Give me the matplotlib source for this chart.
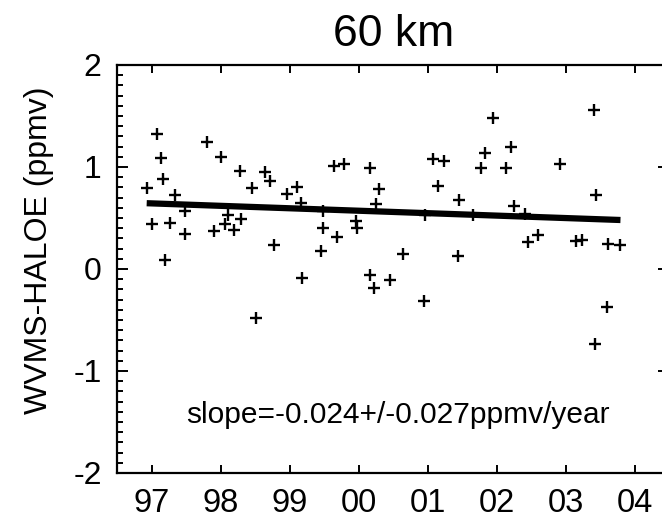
import numpy as np
import matplotlib
matplotlib.use('Agg')
import matplotlib.pyplot as plt
from matplotlib.ticker import MultipleLocator

plt.rcParams['font.family'] = ['Liberation Sans', 'DejaVu Sans']

# decimal year (97 = 1997, 100 = 2000) and WVMS-HALOE difference in ppmv
year = [96.93, 97.00, 97.08, 97.13, 97.17, 97.20, 97.27, 97.34, 97.48, 97.49,
        97.80, 97.91, 98.00, 98.07, 98.11, 98.19, 98.28, 98.30, 98.46, 98.51,
        98.65, 98.72, 98.78, 98.96, 99.10, 99.17, 99.18, 99.46, 99.48, 99.48,
        99.64, 99.68, 99.78, 99.96, 99.98, 100.16, 100.17, 100.22, 100.25, 100.29,
        100.45, 100.64, 100.95, 100.96, 101.08, 101.15, 101.23, 101.44, 101.45, 101.66,
        101.77, 101.83, 101.94, 102.13, 102.21, 102.25, 102.41, 102.45, 102.60, 102.91,
        103.15, 103.24, 103.40, 103.43, 103.42, 103.59, 103.61, 103.79]
diff = [0.79, 0.44, 1.32, 1.09, 0.88, 0.09, 0.45, 0.73, 0.34, 0.57,
        1.25, 0.37, 1.10, 0.44, 0.53, 0.38, 0.96, 0.49, 0.79, -0.48,
        0.95, 0.86, 0.24, 0.74, 0.80, 0.65, -0.09, 0.18, 0.57, 0.40,
        1.01, 0.31, 1.03, 0.47, 0.40, 0.99, -0.06, -0.19, 0.64, 0.78,
        -0.11, 0.15, -0.31, 0.53, 1.08, 0.81, 1.06, 0.13, 0.68, 0.53,
        0.99, 1.14, 1.48, 0.99, 1.20, 0.62, 0.54, 0.26, 0.33, 1.03,
        0.27, 0.28, 1.56, 0.73, -0.74, -0.37, 0.25, 0.24]

# linear fit: value at the first point and slope per year
fit_start = 0.645
fit_slope = -0.024

xtick_pos = [97, 98, 99, 100, 101, 102, 103, 104]
xtick_lab = ['97', '98', '99', '00', '01', '02', '03', '04']
ytick_pos = [-2, -1, 0, 1, 2]

fig = plt.figure(figsize=(6.62, 5.21), dpi=100)
ax = fig.add_axes([117 / 662, 1 - 473 / 521, 552.5 / 662, 408 / 521])

ax.plot(year, diff, linestyle='none', marker='+', color='black',
        markersize=8.5, markeredgewidth=1.7)

fx = np.array([year[0], year[-1]])
fy = fit_start + fit_slope * (fx - year[0])
ax.plot(fx, fy, color='black', linewidth=4.5, solid_capstyle='butt')

ax.set_xlim(96.5, 104.5)
ax.set_ylim(-2, 2)
ax.set_xticks(xtick_pos)
ax.set_xticklabels(xtick_lab)
ax.set_yticks(ytick_pos)
ax.set_yticklabels([str(v) for v in ytick_pos])
ax.yaxis.set_minor_locator(MultipleLocator(0.1))

ax.tick_params(axis='both', which='both', direction='in',
               top=True, right=True, width=1.4, colors='black')
ax.tick_params(axis='x', which='major', length=6, labelsize=23.5, pad=11)
ax.tick_params(axis='y', which='major', length=8, labelsize=23, pad=11)
ax.tick_params(axis='y', which='minor', length=4)
for s in ax.spines.values():
    s.set_linewidth(1.6)

ax.set_title('60 km', fontsize=32, pad=14)
fig.text(39 / 662, 0.52, 'WVMS-HALOE (ppmv)', rotation=90,
         ha='center', va='center', fontsize=23)
ax.text(0.125, 0.1225, 'slope=-0.024+/-0.027ppmv/year', transform=ax.transAxes,
        ha='left', va='baseline', fontsize=21.5)

fig.savefig('out.png', dpi=100)
